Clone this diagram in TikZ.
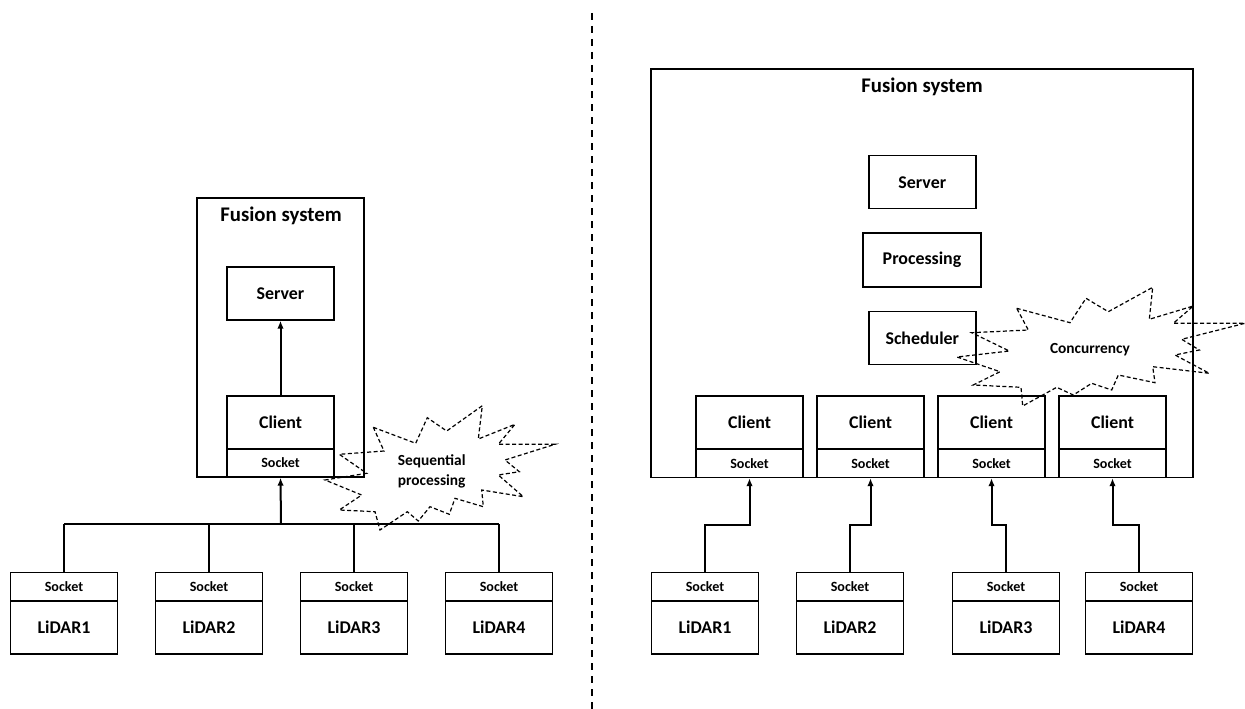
\documentclass[tikz,border=0pt]{standalone}
\usepackage{fontspec}
\setmainfont{Carlito}
\usetikzlibrary{arrows.meta}

\tikzstyle{box} = [rectangle, draw, line width=1.4pt, inner sep=0pt, minimum width=107pt, minimum height=53pt, font=\fontsize{17.9}{20}\selectfont\bfseries]
\tikzstyle{sockbox} = [box, minimum height=28pt, font=\fontsize{14.1}{16}\selectfont\bfseries]
\tikzstyle{frame} = [rectangle, draw, line width=1.4pt, inner sep=0pt]
\tikzstyle{title} = [font=\fontsize{20.8}{24}\selectfont\bfseries]
\tikzstyle{burst} = [line width=1.2pt, dash pattern=on 4pt off 2.5pt, line join=miter]
\tikzstyle{bursttext} = [align=center, font=\fontsize{15.4}{19.3}\selectfont\bfseries]
\tikzstyle{wire} = [line width=2pt]
\tikzstyle{arr} = [wire, -{Latex[length=8pt, width=6.5pt]}]

\begin{document}
\begin{tikzpicture}[x=1pt, y=-1pt]
  \useasboundingbox (0,0) rectangle (1245,709);

  % left: one client serves all LiDARs
  \node[frame, minimum width=167pt, minimum height=279pt] (fusL) at (280.5, 337.5) {};
  \node[title] (tL) at (281, 216) {Fusion system};
  \node[box] (svL) at (280.5, 293.5) {Server};
  \node[box] (clL) at (280.5, 422.5) {Client};
  \node[sockbox] (skL) at (280.5, 463) {Socket};
  \draw[arr] (clL) -- (svL);
  \coordinate (bus) at (281, 524);
  \foreach \i/\n in {0/1, 1/2, 2/3, 3/4} {
    \node[sockbox] (lsk\i) at (64 + \i * 145, 586.7) {Socket};
    \node[box] (ld\i) at (64 + \i * 145, 627.3) {LiDAR\n};
    \draw[wire] (lsk\i.north) -- (lsk\i.north |- bus);
  }
  \draw[wire] (lsk0.north |- bus) -- (lsk3.north |- bus);
  \draw[arr] (bus) -- (skL.south);

  \draw[burst] (373.3,427.3) -- (415.7,443.3) -- (427.3,417.7) -- (446.7,431) -- (482.3,405.7)
    -- (478.3,439) -- (515,424.3) -- (498.3,444.3) -- (555,444.3) -- (505,460)
    -- (519.3,471.7) -- (498.3,475) -- (523.3,496.7) -- (481.7,490) -- (483.3,506.7)
    -- (455,498.3) -- (449.3,514.3) -- (430,506.7) -- (418.3,521) -- (407.3,511.7)
    -- (380,530) -- (375,511.7) -- (339.3,510) -- (361.7,495) -- (325,480)
    -- (366.7,473.3) -- (339.3,454.3) -- (384,451) -- cycle;
  \node[bursttext] (seq) at (431.7, 471.5) {Sequential\\processing};

  % divider
  \coordinate (dtop) at (592, 13);
  \coordinate (dbot) at (592, 709);
  \draw[line width=2pt, dash pattern=on 7pt off 6pt] (dtop) -- (dbot);

  % right: one client per LiDAR
  \node[frame, minimum width=542pt, minimum height=408.5pt] (fusR) at (922, 273.25) {};
  \node[title] (tR) at (922, 87) {Fusion system};
  \node[box] (svR) at (922.3, 182.2) {Server};
  \node[box, minimum width=118pt, minimum height=54pt] (prR) at (922, 260) {Processing};
  \node[box] (scR) at (922.3, 338) {Scheduler};
  \coordinate (bend) at (0, 525);
  \foreach \i/\x/\n in {0/705/1, 1/850/2, 2/1006/3, 3/1139/4} {
    \node[box] (cl\i) at (749.5 + \i * 121, 422.5) {Client};
    \node[sockbox] (sk\i) at (749.5 + \i * 121, 463.5) {Socket};
    \node[sockbox] (rsk\i) at (\x, 586.7) {Socket};
    \node[box] (rld\i) at (\x, 627.3) {LiDAR\n};
    \draw[arr] (rsk\i.north) -- (rsk\i.north |- bend) -| (sk\i.south);
  }

  \draw[burst] (1016.7,308.3) -- (1070,322.7) -- (1086,298.3) -- (1108.3,311.7) -- (1152.7,287.3)
    -- (1149.3,319.3) -- (1193.3,306) -- (1173.3,323.3) -- (1245,323.3) -- (1181.7,339.3)
    -- (1199.3,350) -- (1175,355) -- (1209.3,373.3) -- (1152.7,366.7) -- (1155,382.7)
    -- (1118.3,375) -- (1111.7,390) -- (1091.7,383.3) -- (1073.3,395) -- (1056.7,387.3)
    -- (1022.7,406) -- (1021,387.3) -- (973.3,385) -- (1000,371.7) -- (957,357)
    -- (1009.3,351) -- (971.7,332.7) -- (1028.3,330) -- cycle;
  \node[bursttext] (conc) at (1090, 350) {Concurrency};
\end{tikzpicture}
\end{document}
